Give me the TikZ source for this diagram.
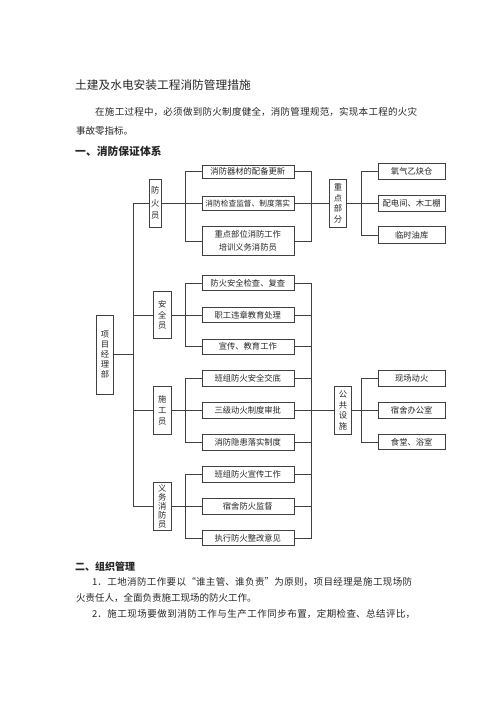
\documentclass[tikz,border=0pt]{standalone}
\usepackage{fontspec}
\setmainfont{Noto Sans CJK SC}
\usetikzlibrary{positioning}
\XeTeXlinebreaklocale "zh"
\XeTeXlinebreakskip=0pt plus 1pt
\newcommand{\fullline}[2]{\parbox{#1}{\parfillskip=0pt\relax #2}}

\begin{document}
\begin{tikzpicture}[x=1pt,y=-1pt,
    line/.style={draw=black!75, line width=0.6pt},
    txt/.style={anchor=west, inner sep=0pt, text=black!85},
    body/.style={txt, font=\fontsize{9.5}{11}\selectfont},
    leaf/.style={line, text=black!85, minimum width=92pt, minimum height=15.5pt,
      inner sep=0pt, font=\fontsize{8.3}{10}\selectfont},
    side/.style={leaf, minimum width=66.7pt},
    post/.style={line, text=black!85, minimum width=17.5pt, minimum height=47.5pt,
      inner sep=0pt, align=center, font=\fontsize{8.3}{10.8}\selectfont}
  ]
  \fill[white] (0,0) rectangle (500,707);
  \useasboundingbox (0,0) rectangle (500,707);

  % Text oben
  \node[txt, font=\fontsize{11.7}{13}\selectfont] (title) at (75,85) {土建及水电安装工程消防管理措施};
  \node[body] (p1) at (95,112) {\fullline{322pt}{在施工过程中，必须做到防火制度健全，消防管理规范，实现本工程的火灾}};
  \node[body] (p2) at (76,131) {事故零指标。};
  \node[txt, font=\fontsize{10.8}{12}\selectfont\bfseries] (h1) at (75,151) {一、消防保证体系};

  % Hilfslinien (x)
  \coordinate (tk) at (133.3,0);
  \coordinate (bl) at (185,0);
  \coordinate (br) at (311.7,0);
  \coordinate (rb) at (361,0);

  % Knoten
  \node[post, minimum width=16.7pt, minimum height=79pt,
    font=\fontsize{8.3}{10}\selectfont] (pm) at (105,354.5) {项\\目\\经\\理\\部};
  \node[post, minimum width=12pt, font=\fontsize{8.3}{12.5}\selectfont] (fhy) at (155.3,203.3) {防\\火\\员};
  \node[post] (aqy) at (162.2,315) {安\\全\\员};
  \node[post] (sgy) at (162.2,410.5) {施\\工\\员};
  \node[post, font=\fontsize{8.3}{9.2}\selectfont] (ywy) at (162.2,506.3) {义\\务\\消\\防\\员};

  \node[leaf, minimum height=13.3pt] (a1) at (247.8,171.6) {消防器材的配备更新};
  \node[leaf, minimum height=13.3pt, font=\fontsize{7.7}{9}\selectfont] (a2) at (247.8,203.3) {消防检查监督、制度落实};
  \node[leaf, minimum height=28.3pt, align=center,
    font=\fontsize{8.3}{13.3}\selectfont] (a3) at (247.8,240.8) {重点部位消防工作\\培训义务消防员};
  \node[leaf] (b1) at (247.8,283) {防火安全检查、复查};
  \node[leaf] (b2) at (247.8,315) {职工违章教育处理};
  \node[leaf] (b3) at (247.8,346.7) {宣传、教育工作};
  \node[leaf] (c1) at (247.8,378.3) {班组防火安全交底};
  \node[leaf] (c2) at (247.8,410.5) {三级动火制度审批};
  \node[leaf] (c3) at (247.8,442.5) {消防隐患落实制度};
  \node[leaf] (d1) at (247.8,474.2) {班组防火宣传工作};
  \node[leaf] (d2) at (247.8,506.3) {宿舍防火监督};
  \node[leaf] (d3) at (247.8,537.9) {执行防火整改意见};

  \node[post, minimum height=48.5pt] (zdbf) at (338,203.3) {重\\点\\部\\分};
  \node[post, minimum height=48pt] (ggss) at (343,410.5) {公\\共\\设\\施};

  \node[side] (r1) at (411.7,171.1) {氧气乙炔仓};
  \node[side] (r2) at (411.7,203.3) {配电间、木工棚};
  \node[side, minimum height=16.6pt] (r3) at (411.7,235) {临时油库};
  \node[side] (s1) at (411.7,378.3) {现场动火};
  \node[side] (s2) at (411.7,410.5) {宿舍办公室};
  \node[side] (s3) at (411.7,442) {食堂、浴室};

  % Verbindungen
  \draw[line] (fhy.west) -| (tk |- ywy.west) -- (ywy.west);
  \draw[line] (pm.east) -- (pm.east -| tk);
  \draw[line] (aqy.west) -- (aqy.west -| tk);
  \draw[line] (sgy.west) -- (sgy.west -| tk);

  \draw[line] (a1.west) -| (bl |- a3.west) -- (a3.west);
  \draw[line] (fhy.east) -- (a2.west);
  \draw[line] (b1.west) -| (bl |- b3.west) -- (b3.west);
  \draw[line] (aqy.east) -- (b2.west);
  \draw[line] (c1.west) -| (bl |- c3.west) -- (c3.west);
  \draw[line] (sgy.east) -- (c2.west);
  \draw[line] (d1.west) -| (bl |- d3.west) -- (d3.west);
  \draw[line] (ywy.east) -- (d2.west);

  \draw[line] (a1.east) -| (br |- a3.east) -- (a3.east);
  \draw[line] (a2.east) -- (zdbf.west);
  \draw[line] (b1.east) -| (br |- d3.east) -- (d3.east);
  \foreach \n in {b2,b3,c1,c3,d1,d2}
    \draw[line] (\n.east) -- (\n.east -| br);
  \draw[line] (c2.east) -- (ggss.west);

  \draw[line] (r1.west) -| (rb |- r3.west) -- (r3.west);
  \draw[line] (zdbf.east) -- (r2.west);
  \draw[line] (s1.west) -| (rb |- s3.west) -- (s3.west);
  \draw[line] (ggss.east) -- (s2.west);

  % Text unten
  \node[txt, font=\fontsize{10}{12}\selectfont\bfseries] (h2) at (75,566.5) {二、组织管理};
  \node[body] (q1) at (92,582) {\fullline{320pt}{1．工地消防工作要以“谁主管、谁负责”为原则，项目经理是施工现场防}};
  \node[body] (q2) at (76,598) {火责任人，全面负责施工现场的防火工作。};
  \node[body] (q3) at (92,614) {\fullline{323pt}{2．施工现场要做到消防工作与生产工作同步布置，定期检查、总结评比，}};
\end{tikzpicture}
\end{document}
